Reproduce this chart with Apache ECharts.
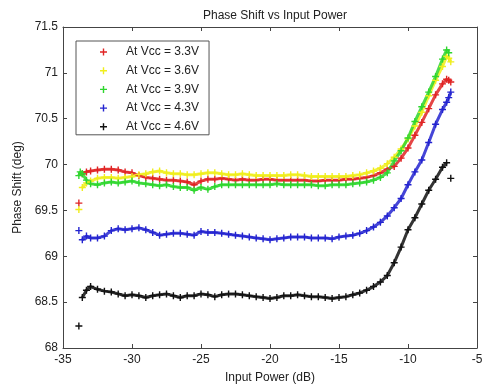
<!DOCTYPE html>
<html>
<head>
<meta charset="utf-8">
<script src="https://cdn.jsdelivr.net/npm/echarts@6/dist/echarts.min.js"></script>
<style>
  html, body { margin: 0; padding: 0; background: #fff; }
  #chart { width: 488px; height: 389px; }
</style>
</head>
<body>
<div id="chart"></div>
<script>
// input power (dB), null entries in a series break the line (isolated start/end points)
const inputPower = [-33.85, -33.75, -33.6, -33.3, -33, -32.5, -32, -31.5, -31, -30.5, -30, -29.5, -29, -28.5, -28, -27.5, -27, -26.5, -26, -25.5,
  -25, -24.5, -24, -23.5, -23, -22.5, -22, -21.5, -21, -20.5, -20, -19.5, -19, -18.5, -18, -17.5, -17, -16.5, -16, -15.5,
  -15, -14.5, -14, -13.5, -13, -12.5, -12, -11.5, -11, -10.5, -10, -9.5, -9, -8.5, -8, -7.5, -7.2, -7.05, -6.9]

const vcc33 = [69.58, null, 69.90, 69.92, 69.93, 69.94, 69.95, 69.95, 69.94, 69.92, 69.91, 69.88, 69.86, 69.85, 69.84, 69.83, 69.83, 69.82, 69.81, 69.78,
  69.82, 69.84, 69.84, 69.85, 69.84, 69.83, 69.84, 69.83, 69.83, 69.84, 69.84, 69.83, 69.83, 69.83, 69.83, 69.83, 69.82, 69.82, 69.83, 69.83,
  69.83, 69.84, 69.84, 69.85, 69.86, 69.88, 69.91, 69.95, 69.98, 70.07, 70.18, 70.32, 70.46, 70.61, 70.76, 70.88, 70.93, 70.92, 70.90]

const vcc36 = [69.51, null, 69.75, 69.80, 69.82, 69.85, 69.86, 69.86, 69.85, 69.86, 69.87, 69.89, 69.90, 69.92, 69.93, 69.91, 69.90, 69.90, 69.89, 69.89,
  69.90, 69.91, 69.91, 69.90, 69.89, 69.89, 69.90, 69.89, 69.88, 69.88, 69.88, 69.88, 69.88, 69.89, 69.89, 69.88, 69.87, 69.87, 69.87, 69.87,
  69.87, 69.87, 69.88, 69.89, 69.91, 69.93, 69.96, 70.01, 70.08, 70.17, 70.28, 70.42, 70.57, 70.75, 70.92, 71.07, 71.18, 71.16, 71.12]

const vcc39 = [69.88, 69.92, 69.90, 69.83, 69.79, 69.78, 69.80, 69.81, 69.80, 69.81, 69.82, 69.80, 69.79, 69.78, 69.77, 69.78, 69.76, 69.75, 69.75, 69.72,
  69.75, 69.73, 69.76, 69.78, 69.78, 69.78, 69.78, 69.78, 69.78, 69.78, 69.78, 69.79, 69.78, 69.78, 69.78, 69.78, 69.78, 69.77, 69.77, 69.78,
  69.78, 69.78, 69.79, 69.80, 69.81, 69.83, 69.86, 69.91, 70.04, 70.15, 70.29, 70.47, 70.63, 70.79, 70.96, 71.15, 71.25, 71.22, null]

const vcc43 = [69.28, null, 69.18, 69.22, 69.20, 69.20, 69.22, 69.28, 69.30, 69.29, 69.30, 69.31, 69.29, 69.26, 69.23, 69.24, 69.25, 69.25, 69.24, 69.23,
  69.27, 69.26, 69.26, 69.25, 69.24, 69.23, 69.22, 69.21, 69.20, 69.19, 69.18, 69.19, 69.20, 69.21, 69.21, 69.21, 69.20, 69.20, 69.20, 69.19,
  69.21, 69.22, 69.23, 69.25, 69.28, 69.32, 69.37, 69.44, 69.53, 69.63, 69.78, 69.92, 70.05, 70.24, 70.44, 70.60, 70.68, 70.73, 70.79]

const vcc46 = [68.24, null, 68.55, 68.63, 68.67, 68.64, 68.62, 68.61, 68.59, 68.57, 68.58, 68.57, 68.55, 68.57, 68.58, 68.59, 68.57, 68.55, 68.57, 68.57,
  68.59, 68.58, 68.56, 68.58, 68.59, 68.59, 68.58, 68.57, 68.56, 68.55, 68.54, 68.55, 68.57, 68.57, 68.58, 68.57, 68.56, 68.56, 68.55, 68.54,
  68.55, 68.56, 68.58, 68.60, 68.63, 68.67, 68.72, 68.79, 68.93, 69.10, 69.29, 69.42, 69.57, 69.72, 69.84, 69.97, 70.02, null, 69.85]

const seriesNames = ['At Vcc = 3.3V', 'At Vcc = 3.6V', 'At Vcc = 3.9V', 'At Vcc = 4.3V', 'At Vcc = 4.6V']
const seriesColors = ['#e02424', '#f0ee1c', '#2ed62e', '#2424d0', '#111111']
const seriesValues = [vcc33, vcc36, vcc39, vcc43, vcc46]

const plusIcon = 'path://M4,0L6,0L6,4L10,4L10,6L6,6L6,10L4,10L4,6L0,6L0,4L4,4Z'
const font = 'Liberation Sans, Arial, sans-serif'

const chart = echarts.init(document.getElementById('chart'))

const series = seriesValues.map((vals, i) => ({
  name: seriesNames[i],
  type: 'line',
  data: inputPower.map((x, j) => [x, vals[j] === null ? '-' : vals[j]]),
  symbol: plusIcon,
  symbolSize: 7,
  showSymbol: true,
  showAllSymbol: true,
  connectNulls: false,
  itemStyle: { color: seriesColors[i] },
  lineStyle: { color: seriesColors[i], width: 3, opacity: 0.85 },
  animation: false
}))

const edgeAxis = {
  axisLine: { show: true, lineStyle: { color: '#444', width: 1 } },
  axisTick: { show: true, inside: true, length: 4, lineStyle: { color: '#444' } },
  axisLabel: { show: false },
  splitLine: { show: false }
}

chart.setOption({
  backgroundColor: '#fff',
  textStyle: { fontFamily: font },
  title: {
    text: 'Phase Shift vs Input Power',
    left: 270,
    textAlign: 'center',
    top: 5,
    textStyle: { fontSize: 12, fontWeight: 'normal', color: '#222', fontFamily: font }
  },
  legend: {
    orient: 'vertical',
    left: 76,
    top: 41,
    padding: [5, 10, 2, 24],
    itemGap: 6.7,
    itemWidth: 7,
    itemHeight: 7,
    icon: plusIcon,
    borderColor: '#555',
    borderWidth: 1,
    backgroundColor: '#fff',
    lineStyle: { width: 0, opacity: 0 },
    textStyle: { fontSize: 12, color: '#222', fontFamily: font, padding: [0, 0, 0, 14] },
    data: seriesNames
  },
  grid: { left: 63, right: 11, top: 27, bottom: 36 },
  xAxis: [{
    type: 'value',
    min: -35,
    max: -5,
    interval: 5,
    name: 'Input Power (dB)',
    nameLocation: 'middle',
    nameGap: 24,
    nameTextStyle: { fontSize: 12, color: '#222', fontFamily: font },
    axisLine: { show: true, onZero: false, lineStyle: { color: '#444', width: 1 } },
    axisTick: { show: true, inside: true, length: 4, lineStyle: { color: '#444' } },
    axisLabel: { fontSize: 12, color: '#222', margin: 6, fontFamily: font },
    splitLine: { show: false }
  }, Object.assign({
    type: 'value', position: 'top', min: -35, max: -5, interval: 5
  }, edgeAxis)],
  yAxis: [{
    type: 'value',
    min: 68,
    max: 71.5,
    interval: 0.5,
    name: 'Phase Shift (deg)',
    nameLocation: 'middle',
    nameGap: 38,
    nameTextStyle: { fontSize: 12, color: '#222', fontFamily: font },
    axisLine: { show: true, lineStyle: { color: '#444', width: 1 } },
    axisTick: { show: true, inside: true, length: 4, lineStyle: { color: '#444' } },
    axisLabel: { fontSize: 12, color: '#222', margin: 5, fontFamily: font },
    splitLine: { show: false }
  }, Object.assign({
    type: 'value', position: 'right', min: 68, max: 71.5, interval: 0.5
  }, edgeAxis)],
  series: series
})
</script>
</body>
</html>
